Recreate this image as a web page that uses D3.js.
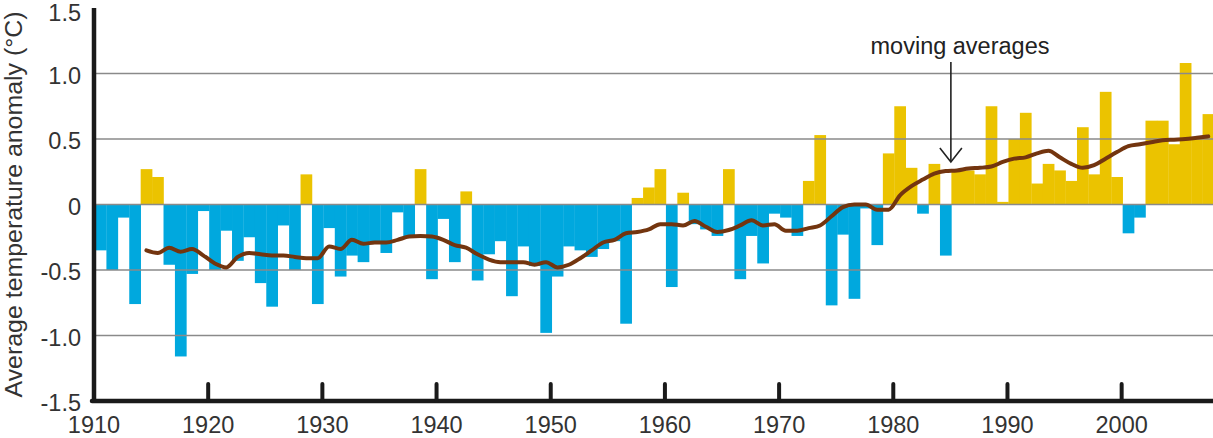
<!DOCTYPE html>
<html>
<head>
<meta charset="utf-8">
<script src="https://cdn.jsdelivr.net/npm/d3@7"></script>
<style>
  body { margin: 0; background: #fff; }
  svg { display: block; font-family: "Liberation Sans", Arial, sans-serif; }
</style>
</head>
<body>
<svg id="chart"></svg>
<script>
// Chart size
const width = 1213;
const height = 438;

const WARM = "#ebc300";
const COLD = "#00a8de";
const LINE = "#73350f";

// Yearly anomalies, 1910-2007
const years = d3.range(1910, 2008);
const anomalies = [
  -0.35, -0.50, -0.10, -0.76, 0.27, 0.21, -0.46, -1.16, -0.53, -0.05,
  -0.50, -0.20, -0.43, -0.25, -0.60, -0.78, -0.16, -0.50, 0.23, -0.76,
  -0.18, -0.55, -0.39, -0.44, -0.28, -0.37, -0.06, -0.25, 0.27, -0.57,
  -0.11, -0.44, 0.10, -0.58, -0.38, -0.28, -0.70, -0.32, -0.47, -0.98,
  -0.55, -0.32, -0.35, -0.40, -0.34, -0.28, -0.91, 0.05, 0.13, 0.27,
  -0.63, 0.09, -0.15, -0.19, -0.24, 0.27, -0.57, -0.24, -0.45, -0.07,
  -0.10, -0.24, 0.18, 0.53, -0.77, -0.23, -0.72, -0.03, -0.31, 0.39,
  0.75, 0.28, -0.07, 0.31, -0.39, 0.27, 0.26, 0.23, 0.75, 0.02,
  0.50, 0.70, 0.16, 0.31, 0.26, 0.18, 0.59, 0.23, 0.86, 0.21,
  -0.22, -0.10, 0.64, 0.64, 0.46, 1.08, 0.50, 0.69
];

// Moving average, 1914-2007
const avgYears = d3.range(1914, 2008);
const movingAvg = [
  -0.35, -0.37, -0.33, -0.36, -0.34, -0.39,
  -0.45, -0.48, -0.40, -0.37, -0.38, -0.39, -0.39, -0.40, -0.41, -0.41,
  -0.32, -0.34, -0.27, -0.30, -0.29, -0.29, -0.27, -0.245, -0.24, -0.245,
  -0.27, -0.31, -0.33, -0.38, -0.42, -0.44, -0.44, -0.44, -0.46, -0.44,
  -0.48, -0.46, -0.41, -0.35, -0.29, -0.27, -0.22, -0.21, -0.19, -0.15,
  -0.15, -0.16, -0.125, -0.17, -0.21, -0.195, -0.16, -0.12, -0.16, -0.15,
  -0.20, -0.20, -0.18, -0.16, -0.09, -0.02, 0.0, 0.0, -0.04, -0.04,
  0.07, 0.14, 0.19, 0.235, 0.255, 0.26, 0.275, 0.28, 0.29, 0.325,
  0.35, 0.36, 0.39, 0.41, 0.36, 0.31, 0.28, 0.30, 0.35, 0.40,
  0.445, 0.46, 0.475, 0.49, 0.495, 0.50, 0.51, 0.52
];

const yTicks = [1.5, 1.0, 0.5, 0, -0.5, -1.0, -1.5];
const gridValues = [1.0, 0.5, 0, -0.5, -1.0];
const xTicks = [1920, 1930, 1940, 1950, 1960, 1970, 1980, 1990, 2000];
const xLabels = [1910, 1920, 1930, 1940, 1950, 1960, 1970, 1980, 1990, 2000];

const FONT = 23.5;

const svg = d3.select("#chart")
  .attr("width", width)
  .attr("height", height);

// Scales
const x = d3.scaleLinear().domain([1910, 2008]).range([95, 1214]);
const y = d3.scaleLinear().domain([-1.5, 1.5]).range([401, 8]);

// Bars
svg.append("g")
  .selectAll("rect")
  .data(years)
  .join("rect")
  .attr("x", (d) => x(d))
  .attr("width", (d) => x(d + 1) - x(d) + 0.3)
  .attr("y", (d, i) => y(Math.max(0, anomalies[i])))
  .attr("height", (d, i) => Math.abs(y(anomalies[i]) - y(0)))
  .attr("fill", (d, i) => anomalies[i] >= 0 ? WARM : COLD);

// Gridlines on top of the bars
svg.append("g")
  .selectAll("line")
  .data(gridValues)
  .join("line")
  .attr("x1", 94)
  .attr("x2", width)
  .attr("y1", (d) => y(d))
  .attr("y2", (d) => y(d))
  .attr("stroke", "#8a8a8a")
  .attr("stroke-width", 1.6);

// Moving average line
const line = d3.line()
  .x((d) => x(d) + (x(d + 1) - x(d)) / 2)
  .y((d, i) => y(movingAvg[i]))
  .curve(d3.curveMonotoneX);

svg.append("path")
  .datum(avgYears)
  .attr("d", line)
  .attr("fill", "none")
  .attr("stroke", LINE)
  .attr("stroke-width", 4)
  .attr("stroke-linejoin", "round")
  .attr("stroke-linecap", "round");

// Axes
svg.append("line")
  .attr("x1", 94).attr("x2", 94)
  .attr("y1", y(1.5)).attr("y2", y(-1.5))
  .attr("stroke", "#1a1a1a")
  .attr("stroke-width", 4.5);

svg.append("line")
  .attr("x1", 92).attr("x2", width)
  .attr("y1", y(-1.5)).attr("y2", y(-1.5))
  .attr("stroke", "#1a1a1a")
  .attr("stroke-width", 4.5)
  .attr("stroke-linecap", "round");

svg.append("g")
  .selectAll("line")
  .data(xTicks)
  .join("line")
  .attr("x1", (d) => x(d) - 1)
  .attr("x2", (d) => x(d) - 1)
  .attr("y1", y(-1.5))
  .attr("y2", y(-1.5) - 17)
  .attr("stroke", "#1a1a1a")
  .attr("stroke-width", 4)
  .attr("stroke-linecap", "round");

// Tick labels
svg.append("g")
  .selectAll("text")
  .data(xLabels)
  .join("text")
  .attr("x", (d) => x(d) - 1)
  .attr("y", 433)
  .attr("text-anchor", "middle")
  .attr("font-size", FONT)
  .attr("fill", "#333")
  .text((d) => d);

svg.append("g")
  .selectAll("text")
  .data(yTicks)
  .join("text")
  .attr("x", 81)
  .attr("y", (d) => Math.max(y(d) + 10, 21))
  .attr("text-anchor", "end")
  .attr("font-size", FONT)
  .attr("fill", "#333")
  .text((d) => d === 0 ? "0" : d.toFixed(1));

// Axis title
svg.append("text")
  .attr("transform", `translate(22, ${y(0)}) rotate(-90)`)
  .attr("text-anchor", "middle")
  .attr("font-size", FONT)
  .attr("textLength", 386)
  .attr("lengthAdjust", "spacingAndGlyphs")
  .attr("fill", "#333")
  .text("Average temperature anomaly (°C)");

// Annotation
const arrowX = x(1985) - 0.5;
svg.append("text")
  .attr("x", 960)
  .attr("y", 54)
  .attr("text-anchor", "middle")
  .attr("font-size", FONT)
  .attr("fill", "#222")
  .text("moving averages");

svg.append("line")
  .attr("x1", arrowX).attr("x2", arrowX)
  .attr("y1", 62).attr("y2", 162)
  .attr("stroke", "#222")
  .attr("stroke-width", 1.6);

svg.append("path")
  .attr("d", `M${arrowX - 11},${148} L${arrowX},${162} L${arrowX + 11},${148}`)
  .attr("fill", "none")
  .attr("stroke", "#222")
  .attr("stroke-width", 1.6);
</script>
</body>
</html>
